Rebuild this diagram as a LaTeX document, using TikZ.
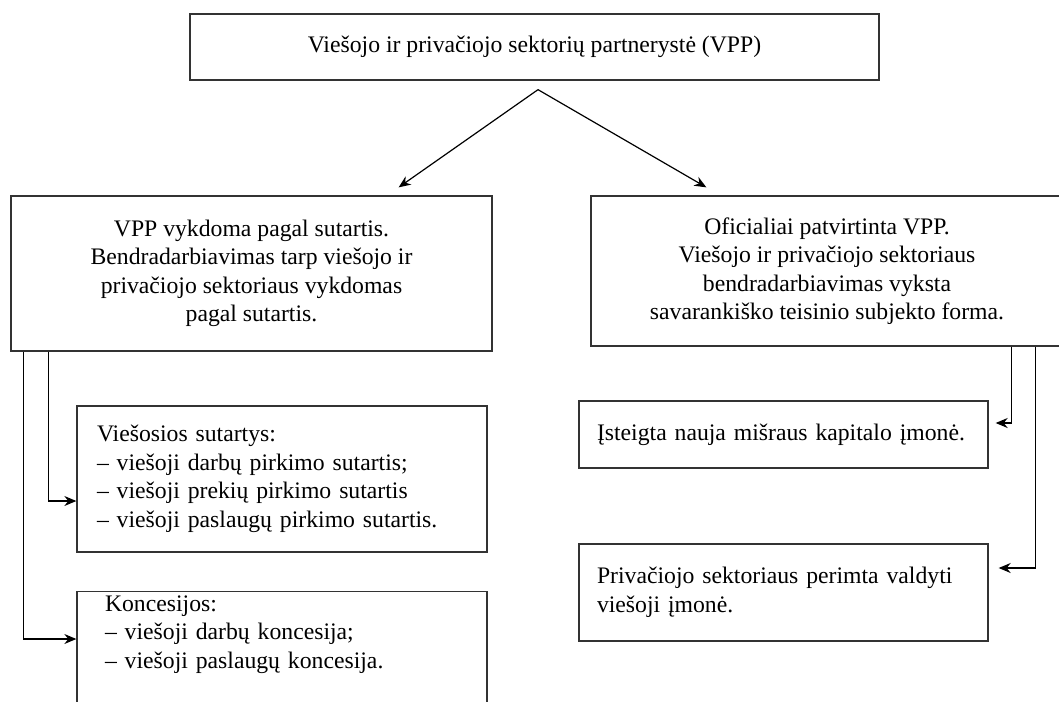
\documentclass[tikz,border=0pt]{standalone}
\usepackage{fontspec}
\setmainfont{Liberation Serif}
\usepackage{tikz}
\usetikzlibrary{arrows.meta,positioning,calc}
\newcommand{\boxfont}{\fontsize{23.7}{28.5}\selectfont}
\tikzset{
  mbox/.style={rectangle,draw=black!80,line width=1.3pt,font=\boxfont,
               align=center,inner sep=0pt,minimum width=#1},
  mbox/.default=480pt,
  lbox/.style={rectangle,draw=black!80,line width=1.3pt,font=\boxfont,
               align=left,text width=#1,inner xsep=20pt,inner ysep=0pt},
  lbox/.default=370pt,
  arr/.style={-{Stealth[length=12pt,width=10pt]},line width=1.2pt,color=black},
}

\begin{document}
\begin{tikzpicture}[x=1pt,y=-1pt]
      \useasboundingbox (0,0) rectangle (1059,701);

      \node[mbox=689pt, minimum height=66pt] (vpp) at (534.5,47)
        {Viešojo ir privačiojo sektorių partnerystė (VPP)};

      % --- dvi VPP formos ---
      \node[mbox=481pt, minimum height=155pt] (sut) at (251.5,273.5)
        {VPP vykdoma pagal sutartis.\\
         Bendradarbiavimas tarp viešojo ir\\
         privačiojo sektoriaus vykdomas\\
         pagal sutartis.};

      \node[mbox=472pt, minimum height=150pt] (ofic) at (827,271)
        {Oficialiai patvirtinta VPP.\\
         Viešojo ir privačiojo sektoriaus\\
         bendradarbiavimas vyksta\\
         savarankiško teisinio subjekto forma.};

      \draw[arr] ([xshift=3.5pt,yshift=-9pt]vpp.south) -- ([xshift=-94pt,yshift=8pt]sut.north east);
      \draw[arr] ([xshift=3.5pt,yshift=-9pt]vpp.south) -- ([xshift=116pt,yshift=8pt]ofic.north west);

      % --- sutartinė VPP ---
      \node[lbox, minimum height=146pt] (viesos) at (282,479)
        {Viešosios sutartys:\\
         – viešoji darbų pirkimo sutartis;\\
         – viešoji prekių pirkimo sutartis\\
         – viešoji paslaugų pirkimo sutartis.};

      \node[lbox=354pt, inner xsep=28pt, inner ysep=4pt, text depth=120pt,
            anchor=north] (konc) at (282,591)
        {Koncesijos:\\
         – viešoji darbų koncesija;\\
         – viešoji paslaugų koncesija.};

      \draw[arr] ([xshift=38pt]sut.south west) |- ([yshift=-22pt]viesos.west);
      \draw[arr] ([xshift=13pt]sut.south west) |- ([yshift=-48pt]konc.north west);

      % --- institucinė VPP ---
      \node[lbox=373pt, inner xsep=18pt, minimum height=67pt] (istg) at (783.5,434.5)
        {Įsteigta nauja mišraus kapitalo įmonė.};

      \node[lbox=373pt, inner xsep=18pt, minimum height=97pt] (priv) at (783.5,592.5)
        {Privačiojo sektoriaus perimta valdyti\\
         viešoji įmonė.};

      \draw[arr] ([xshift=421pt]ofic.south west) |- ([xshift=7pt,yshift=11.5pt]istg.east);
      \draw[arr] ([xshift=445pt]ofic.south west) |- ([xshift=10pt,yshift=24.5pt]priv.east);
\end{tikzpicture}
\end{document}
